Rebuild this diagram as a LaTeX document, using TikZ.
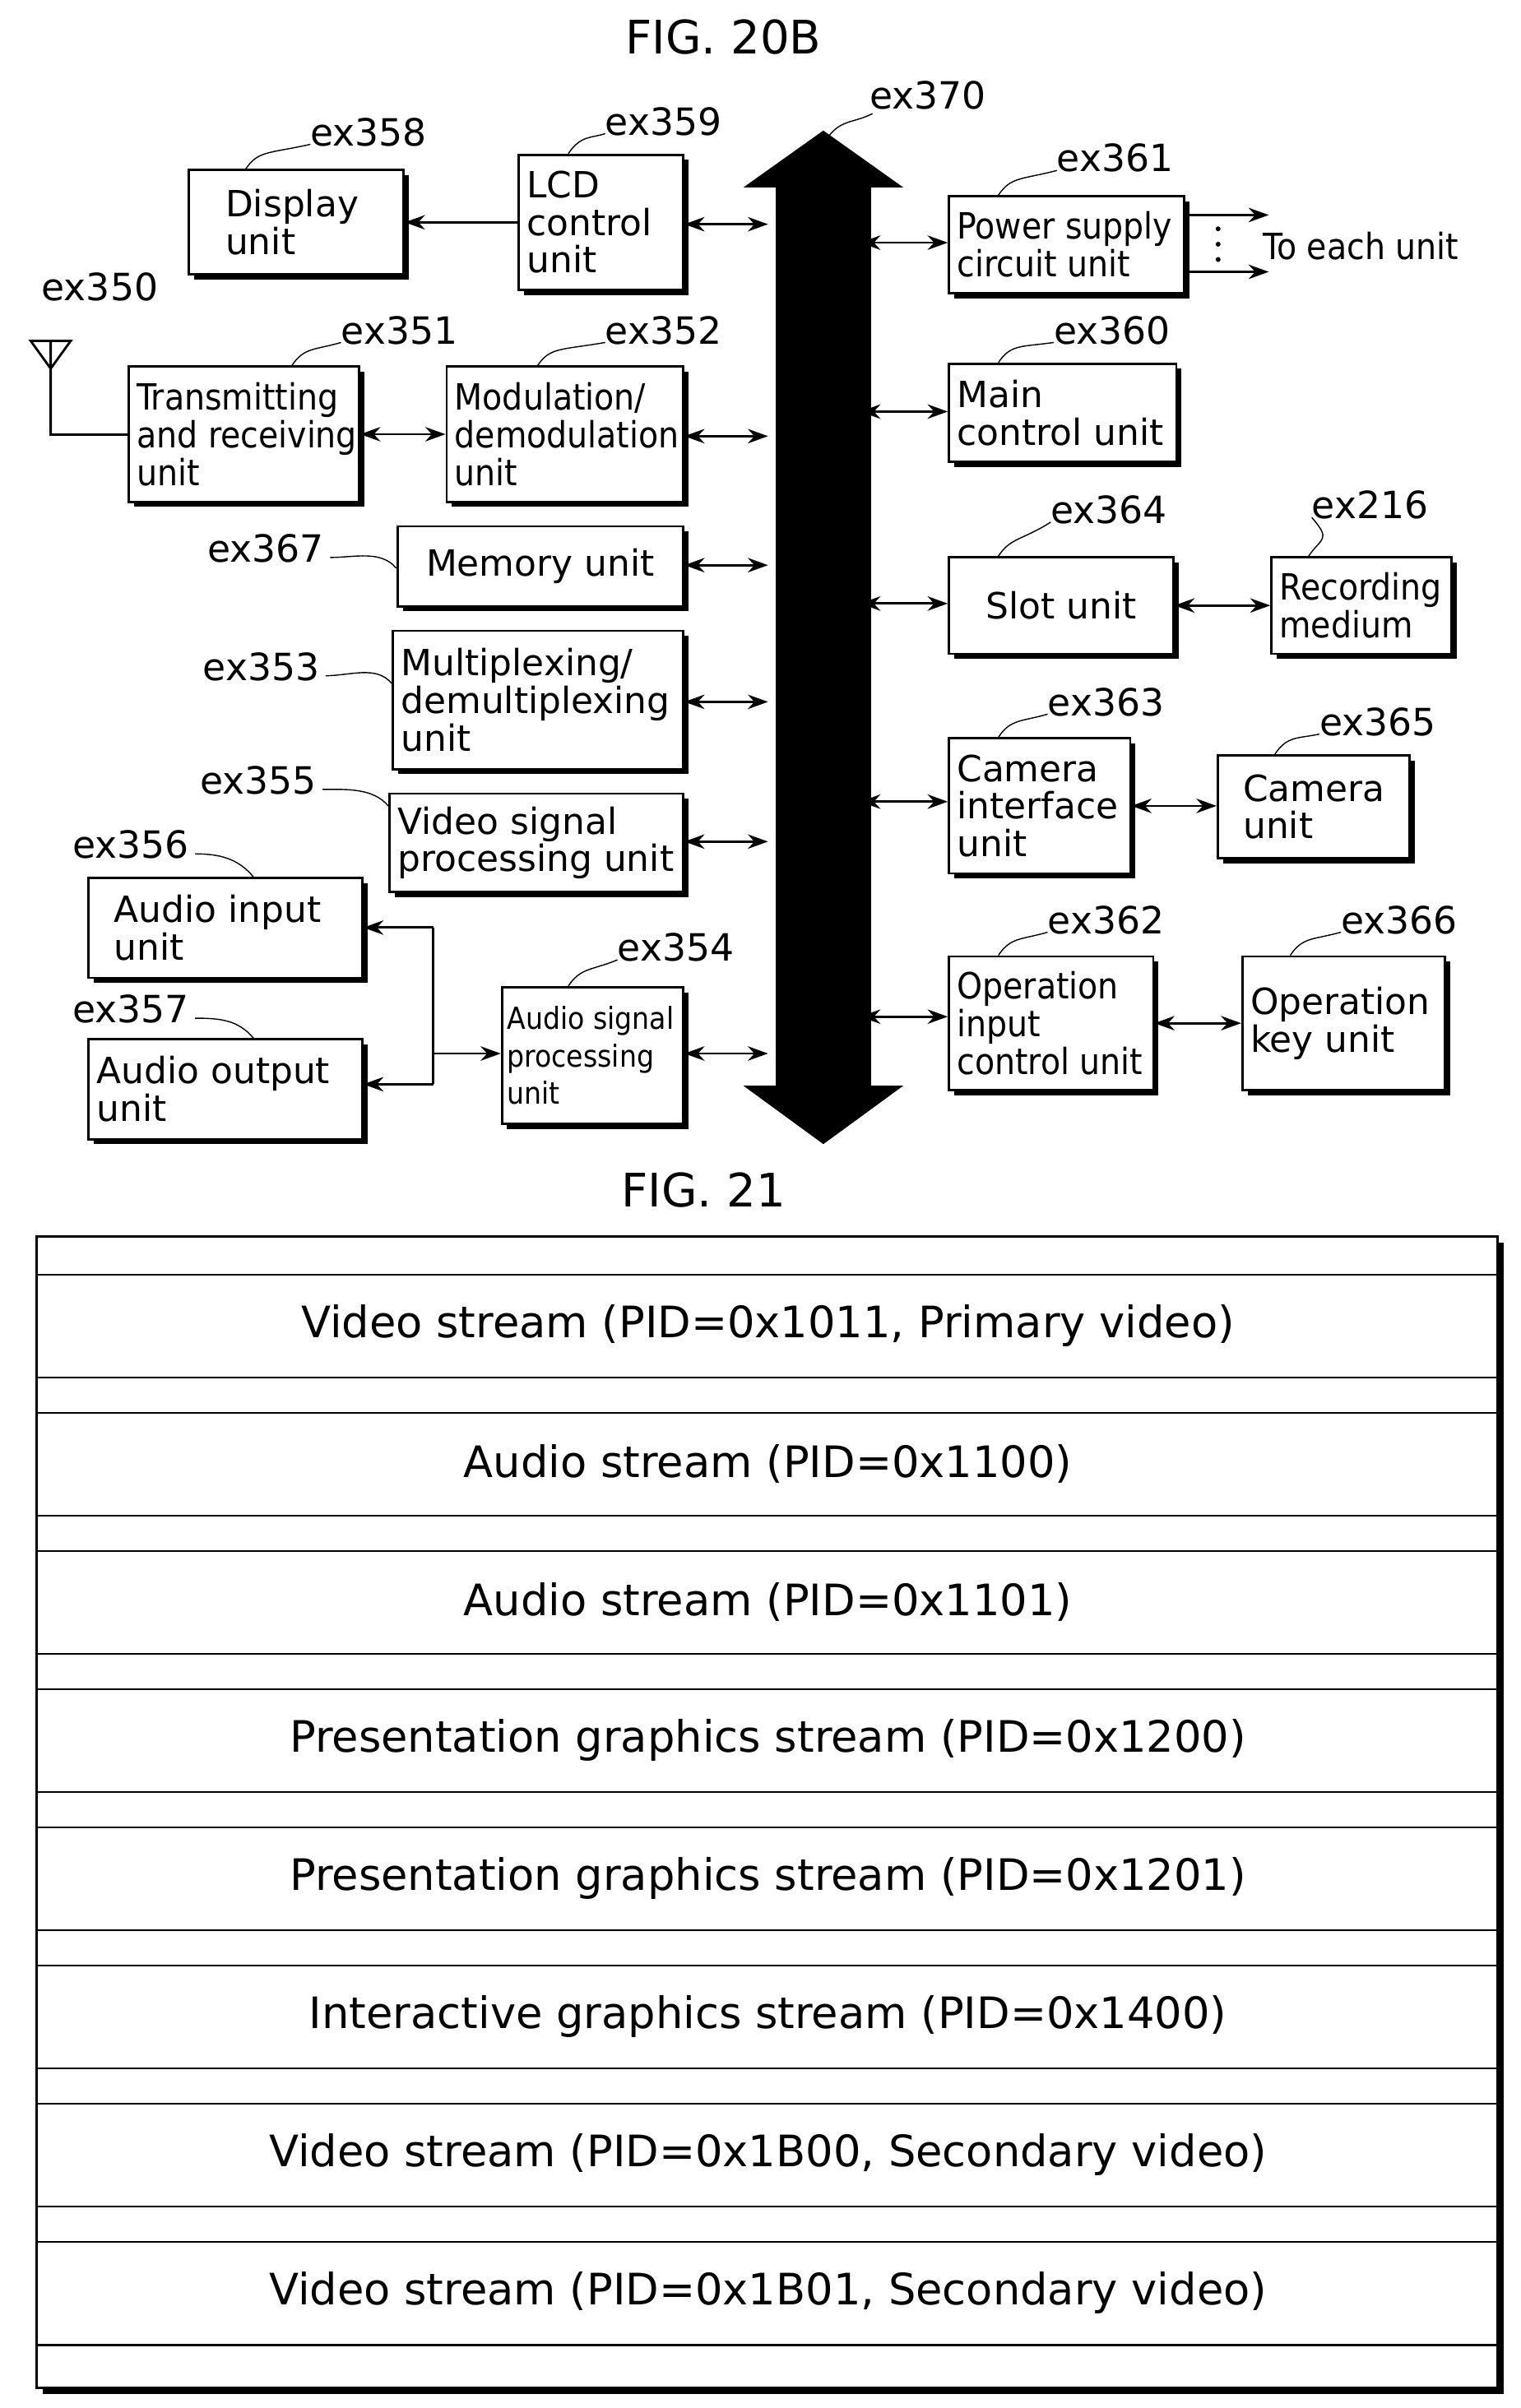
\documentclass[tikz,border=0pt]{standalone}
\usepackage{fontspec}
\setmainfont{DejaVu Sans}
\newfontfamily\cond{DejaVu Sans Condensed}
\usetikzlibrary{arrows.meta,shadows}
\tikzset{
  unit/.style={draw, fill=white, thick, anchor=north west, inner sep=0pt,
    drop shadow={fill=black, opacity=1, shadow xshift=1.8pt, shadow yshift=-1.8pt}},
  size/.style 2 args={minimum width=#1*0.5318pt, minimum height=#2*0.5318pt},
  txt/.style={anchor=west, align=left, inner sep=3pt, font=\fontsize{12.5}{13}\selectfont},
  ctxt/.style={txt, font=\cond\fontsize{12.5}{13}\selectfont},
  exlbl/.style={font=\fontsize{13}{14}\selectfont},
  lead/.style={thin},
  link/.style={thick, {Stealth[length=7pt,width=5pt]}-{Stealth[length=7pt,width=5pt]}},
  one/.style={thick, -{Stealth[length=7pt,width=5pt]}}
}
\begin{document}
\begin{tikzpicture}[x=0.5318pt, y=-0.5318pt]
\useasboundingbox (0,0) rectangle (990,1568);
% titles
\node[font=\fontsize{16}{18}\selectfont] (fig20) at (471,24) {FIG. 20B};
\node[font=\fontsize{16}{18}\selectfont] (fig21) at (458,775) {FIG. 21};

% bus
\fill (536,85) -- (588,122) -- (567,122) -- (567,707) -- (588,707) -- (536,745)
  -- (484,707) -- (505,707) -- (505,122) -- (484,122) -- cycle;
\node[exlbl] (l370) at (604,62) {ex370};
\draw[lead] (540,88) .. controls (548,78) and (556,80) .. (568,74);

% left column
\node[unit, size={140}{68}] (disp) at (122,110) {};
\node[txt, xshift=10pt] at (disp.west) {Display\\unit};
\node[unit, size={107}{88}] (lcd) at (337,100) {};
\node[txt] at (lcd.west) {LCD\\control\\unit};
\node[unit, size={150}{88}] (trx) at (83,238) {};
\node[ctxt] at (trx.west) {Transmitting\\and receiving\\unit};
\node[unit, size={154}{88}] (mod) at (290,238) {};
\node[ctxt] at (mod.west) {Modulation/\\demodulation\\unit};
\node[unit, size={186}{52}] (mem) at (258,342) {};
\node[txt, anchor=center] at (mem.center) {Memory unit};
\node[unit, size={189}{90}] (mux) at (255,410) {};
\node[txt] at (mux.west) {Multiplexing/\\demultiplexing\\unit};
\node[unit, size={191}{64}] (vid) at (253,516) {};
\node[txt] at (vid.west) {Video signal\\processing unit};
\node[unit, size={178}{65}] (ain) at (57,571) {};
\node[txt, xshift=6pt] at (ain.west) {Audio input\\unit};
\node[unit, size={178}{65}] (aout) at (57,676) {};
\node[txt] at (aout.west) {Audio output\\unit};
\node[unit, size={118}{89}] (asp) at (326,642) {};
\node[ctxt, inner sep=2pt, font=\cond\fontsize{10.5}{13}\selectfont] at (asp.west) {Audio signal\\processing\\unit};

% right column
\node[unit, size={153}{63}] (pow) at (617,127) {};
\node[ctxt] at (pow.west) {Power supply\\circuit unit};
\node[unit, size={148}{64}] (mctl) at (617,236) {};
\node[txt] at (mctl.west) {Main\\control unit};
\node[unit, size={146}{63}] (slot) at (617,362) {};
\node[txt, anchor=center] at (slot.center) {Slot unit};
\node[unit, size={117}{63}] (rec) at (827,362) {};
\node[ctxt] at (rec.west) {Recording\\medium};
\node[unit, size={118}{88}] (camif) at (617,480) {};
\node[txt] at (camif.west) {Camera\\interface\\unit};
\node[unit, size={125}{67}] (cam) at (792,491) {};
\node[txt, xshift=6pt] at (cam.west) {Camera\\unit};
\node[unit, size={133}{87}] (opin) at (617,622) {};
\node[ctxt] at (opin.west) {Operation\\input\\control unit};
\node[unit, size={132}{87}] (opkey) at (808,622) {};
\node[txt] at (opkey.west) {Operation\\key unit};

% bus taps
\foreach \n/\y in {lcd/146, mod/284, mem/368, mux/457, vid/548, asp/686} {
  \coordinate (b\n) at (500,\y);
  \draw[link] (\n.east |- b\n) -- (b\n);
}
\foreach \n/\y in {pow/158, mctl/268, slot/393, camif/522, opin/662} {
  \coordinate (b\n) at (560,\y);
  \draw[link] (b\n) -- (\n.west |- b\n);
}
\draw[one] (lcd.west |- disp.east) -- (disp.east);
\draw[link] (trx) -- (mod);
\draw[link] (slot) -- (rec);
\draw[link] (camif.east) -- (cam.west |- camif.east);
\draw[link] (opin) -- (opkey);

% to each unit
\coordinate (pw1) at (826,140);
\coordinate (pw2) at (826,177);
\draw[one] (pow.east |- pw1) -- (pw1);
\draw[one] (pow.east |- pw2) -- (pw2);
\foreach \y in {149,159,169} \fill (793,\y) circle (1.6);
\node[ctxt, anchor=west, inner sep=0pt] (each) at (822,160) {To each unit};

% antenna
\coordinate (ant) at (33,238);
\draw[thick] (20,222) -- (46,222) -- (33,240) -- cycle (33,222) -- (33,283) -- (trx.west |- 0,283);
\node[exlbl] (l350) at (65,187) {ex350};

% audio
\coordinate (aj) at (282,686);
\draw[thick] (282,604) -- (282,706);
\draw[one] (282,604) -- (ain.east |- 0,604);
\draw[one] (282,706) -- (aout.east |- 0,706);
\draw[one] (aj) -- (asp.west |- aj);

% reference labels
\foreach \t/\x/\y/\ax/\ay in {358/240/86/160/110, 359/432/79/370/100, 361/726/103/650/127,
  351/260/215/190/238, 352/432/215/350/238, 360/724/215/650/236, 364/722/332/650/362,
  216/892/329/852/362, 363/720/457/650/480, 365/897/470/830/491, 362/720/599/650/622,
  366/911/599/840/622, 354/440/617/370/642} {
  \node[exlbl] (l\t) at (\x,\y) {ex\t};
  \draw[lead] (\ax,\ay) .. controls (\ax+8,\ay-12) and (\ax+15,\ay-10) .. (\x-38,\y+8);
}
\foreach \t/\x/\y/\ax/\ay in {367/173/357/258/370, 353/170/434/255/445, 355/168/508/253/525,
  356/85/550/165/571, 357/85/657/165/676} {
  \node[exlbl] (l\t) at (\x,\y) {ex\t};
  \draw[lead] (\x+42,\y+6) .. controls (\x+58,\y+6) and (\ax-10,\ay-12) .. (\ax,\ay);
}

% FIG. 21 table
\fill (28,809) rectangle (979,1559);
\draw[thick, fill=white] (24,805) rectangle (975,1555);
\foreach \i/\s in {0/{Video stream (PID=0x1011, Primary video)}, 1/{Audio stream (PID=0x1100)},
  2/{Audio stream (PID=0x1101)}, 3/{Presentation graphics stream (PID=0x1200)},
  4/{Presentation graphics stream (PID=0x1201)}, 5/{Interactive graphics stream (PID=0x1400)},
  6/{Video stream (PID=0x1B00, Secondary video)}, 7/{Video stream (PID=0x1B01, Secondary video)}} {
  \draw[semithick] (24,830+90*\i) -- (975,830+90*\i);
  \draw[semithick] (24,897+90*\i) -- (975,897+90*\i);
  \node[font=\fontsize{15}{16}\selectfont] (row\i) at (500,863+90*\i) {\s};
}
\end{tikzpicture}
\end{document}
